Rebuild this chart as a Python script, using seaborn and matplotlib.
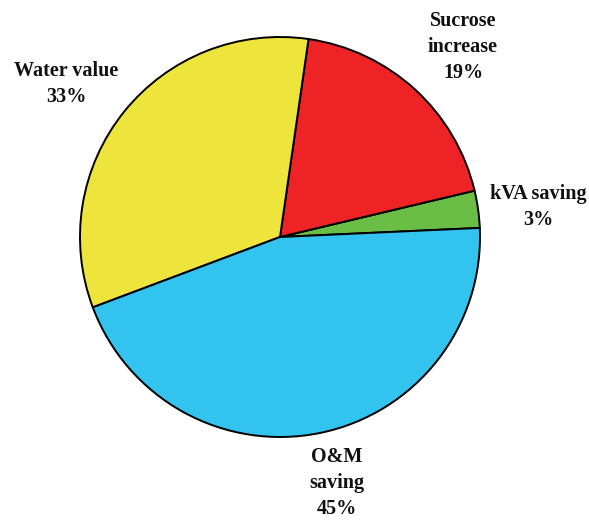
import matplotlib
matplotlib.use("Agg")
import matplotlib.pyplot as plt
import seaborn as sns

# Share of benefits
labels = ["kVA saving", "Sucrose\nincrease", "Water value", "O&M\nsaving"]
shares = [3, 19, 33, 45]
colors = ["#6ABD45", "#EE2326", "#EEE53C", "#32C3EF"]

sns.set_theme(style="white")
plt.rcParams["font.family"] = ["Liberation Serif", "DejaVu Serif"]

fig = plt.figure(figsize=(5.89, 5.20), dpi=100)
ax = fig.add_axes([0, 0, 1, 1])

cx, cy, r = 280, 283, 200
ax.pie(
    shares,
    colors=sns.color_palette(colors),
    startangle=2.6,
    counterclock=True,
    center=(cx, cy),
    radius=r,
    wedgeprops=dict(edgecolor="black", linewidth=1.4),
    frame=True,
)
ax.set_xlim(0, 589)
ax.set_ylim(0, 520)
ax.set_aspect("equal")
ax.axis("off")

# label anchor points (text centres)
label_pos = [(538, 313), (463, 473), (66, 436), (337, 37)]
for lab, val, (x, y) in zip(labels, shares, label_pos):
    ax.text(x, y, f"{lab}\n{val}%", ha="center", va="center",
            fontsize=14.5, fontweight="bold", linespacing=1.4, color="#111111")

fig.savefig("out.png", dpi=100)
